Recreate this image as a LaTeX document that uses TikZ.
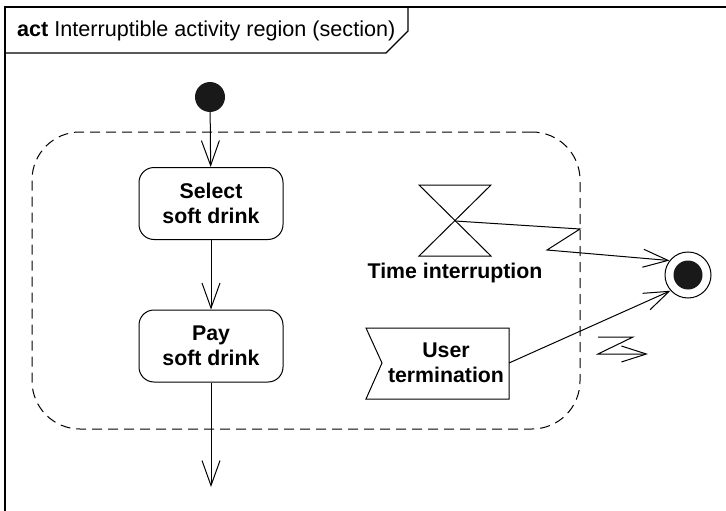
\documentclass[tikz,border=0pt]{standalone}
\usepackage{fontspec}
\setmainfont{Liberation Sans}
\usetikzlibrary{arrows.meta}
\tikzset{
  ln/.style={line width=1pt, line join=miter},
  arr/.style={ln, -{Straight Barb[length=25pt,width=18pt,line width=1pt]}},
  action/.style={draw, ln, rounded corners=15pt, minimum width=144pt, minimum height=72pt, inner sep=0pt, align=center, font=\fontsize{21.3}{24.5}\selectfont\bfseries},
  lbl/.style={inner sep=0pt, align=center, font=\fontsize{21.3}{24.5}\selectfont\bfseries},
  region/.style={draw, line width=1pt, dash pattern=on 10pt off 6pt, rounded corners=48pt, minimum width=548pt, minimum height=297pt, inner sep=0pt},
}
\begin{document}
\begin{tikzpicture}[x=1pt,y=-1pt]
\useasboundingbox (0,0) rectangle (726,511);
\clip (0,0) rectangle (726,511);
% frame
\draw[line width=1.4pt] (5,520) -- (5,7) -- (740,7);
\draw[line width=1.2pt] (5,53) -- (386,53) -- (408,31) -- (408,7);
\node[anchor=base west, inner sep=0pt, font=\fontsize{21.6}{24}\selectfont] (title) at (17,37) {\textbf{act} Interruptible activity region (section)};
% region
\node[region] (reg) at (306,280.5) {};
% initial
\node[circle, fill=black!90, minimum size=30pt, inner sep=0pt] (init) at (210,97) {};
% actions
\node[action] (sel) at (211,203.5) {Select\\soft drink};
\node[action] (pay) at (211,346) {Pay\\soft drink};
\coordinate (endp) at (211,487);
\draw[arr] (init) -- (sel);
\draw[arr] (sel) -- (pay);
\draw[arr] (pay) -- (endp);
% final
\node[circle, draw, ln, minimum size=46pt, inner sep=0pt] (fin) at (688,275) {};
\node[circle, fill=black!90, minimum size=29pt, inner sep=0pt] (fincore) at (fin) {};
% hourglass
\coordinate (hg) at (455,221);
\draw[ln] (419,185) -- (491,185) -- (419,256) -- (491,256) -- cycle;
\node[lbl] (tl) at (455,273) {Time interruption};
% accept event
\draw[ln] (366,328) -- (509,328) -- (509,399) -- (366,399) -- (382,363) -- cycle;
\coordinate (utR) at (509,363);
\node[lbl] (ut) at (446,363) {User\\termination};
% interrupting edge
\coordinate (z1) at (580,229);
\coordinate (z2) at (547,250);
\draw[arr] (hg) -- (z1) -- (z2) -- (fin.142);
\draw[arr] (utR) -- (fin.222);
% interrupt symbol
\coordinate (l1) at (598,337);
\coordinate (l2) at (633,337);
\coordinate (l3) at (598,354);
\coordinate (l4) at (648,354);
\draw[ln, -{Straight Barb[length=25pt,width=16pt,line width=1pt]}] (l1) -- (l2) -- (l3) -- (l4);
\end{tikzpicture}
\end{document}
